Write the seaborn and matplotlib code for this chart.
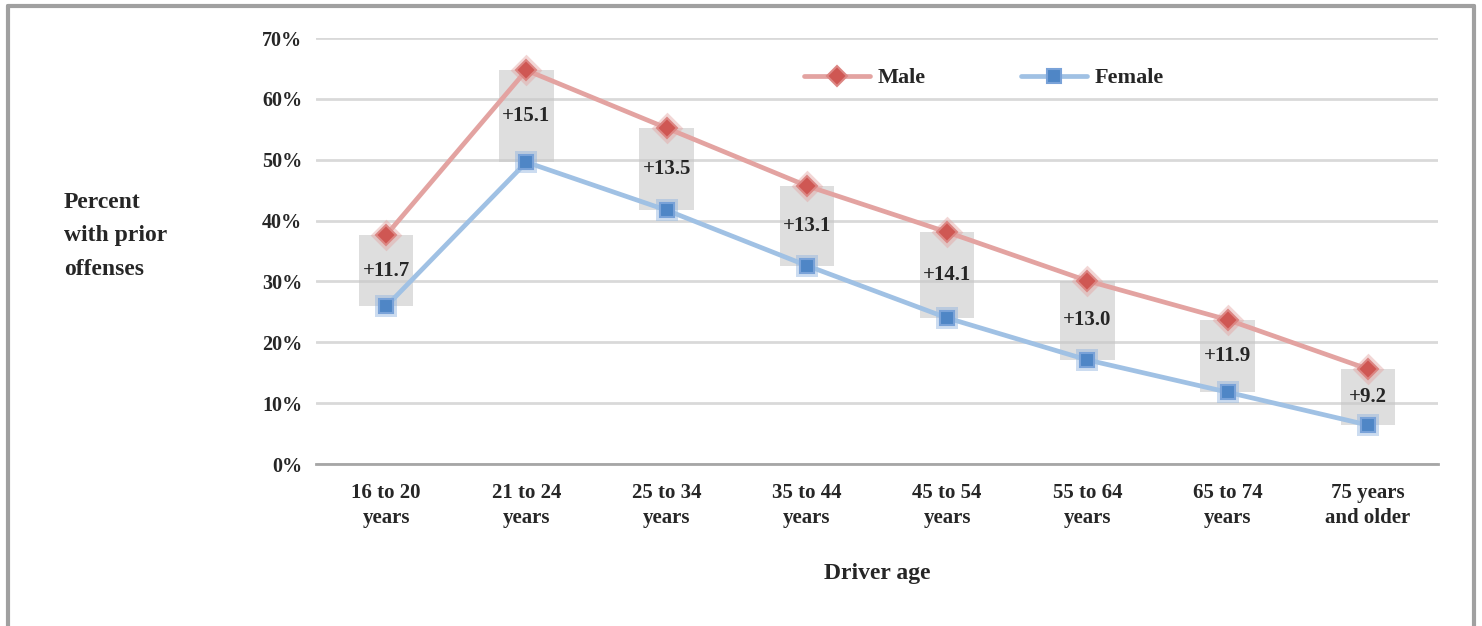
import matplotlib.pyplot as plt
import seaborn as sns
import numpy as np
from matplotlib.lines import Line2D

# Data
age_groups = ["16 to 20\nyears", "21 to 24\nyears", "25 to 34\nyears", "35 to 44\nyears",
              "45 to 54\nyears", "55 to 64\nyears", "65 to 74\nyears", "75 years\nand older"]
male_pct = [37.6, 64.7, 55.2, 45.7, 38.1, 30.1, 23.7, 15.6]
female_pct = [25.9, 49.6, 41.7, 32.6, 24.0, 17.1, 11.8, 6.4]
gap_labels = ["+11.7", "+15.1", "+13.5", "+13.1", "+14.1", "+13.0", "+11.9", "+9.2"]
y_ticks = [0, 10, 20, 30, 40, 50, 60, 70]

TEXT = "#262626"
FONT = ["Liberation Serif", "DejaVu Serif"]


def main():
    sns.set_style("white")
    plt.rcParams['font.family'] = FONT
    plt.rcParams['font.weight'] = 'bold'

    fig = plt.figure(figsize=(14.82, 6.26), dpi=100)
    ax = fig.add_axes([316 / 1482, 1 - 464 / 626, 1122 / 1482, 426 / 626])

    x = np.arange(len(age_groups))
    male = np.array(male_pct)
    female = np.array(female_pct)

    # Gap boxes between the two series
    ax.bar(x, male - female, bottom=female, width=0.39, color="#c8c8c8",
           alpha=0.6, zorder=2, linewidth=0)

    # Soft glow under markers
    sns.scatterplot(x=x, y=male, ax=ax, marker='D', s=260, color="#e4a4a2",
                    alpha=0.45, linewidth=0, zorder=3, legend=False)
    sns.scatterplot(x=x, y=female, ax=ax, marker='s', s=250, color="#8fb3df",
                    alpha=0.45, linewidth=0, zorder=3, legend=False)

    sns.lineplot(x=x, y=male, ax=ax, color="#e3a3a1", lw=3.4, marker='D',
                 markersize=10, markerfacecolor="#cf5753", markeredgecolor="#dc8683",
                 markeredgewidth=1.5, zorder=4, label="Male")
    sns.lineplot(x=x, y=female, ax=ax, color="#a0c1e4", lw=3.4, marker='s',
                 markersize=10, markerfacecolor="#4f86c6", markeredgecolor="#79a2d8",
                 markeredgewidth=1.5, zorder=4, label="Female")

    for xi, lo, hi, lab in zip(x, female, male, gap_labels):
        ax.text(xi, (lo + hi) / 2, lab, ha='center', va='center', fontsize=15,
                fontweight='bold', color=TEXT, zorder=5)

    ax.set_xlim(-0.5, len(age_groups) - 0.5)
    ax.set_ylim(0, 70)
    ax.set_yticks(y_ticks)
    ax.set_yticklabels([f"{v}%" for v in y_ticks], fontsize=14.5, color=TEXT)
    ax.set_xticks(x)
    ax.set_xticklabels(age_groups, fontsize=15, color=TEXT, linespacing=1.3)
    ax.set_xticks(np.arange(-0.5, len(age_groups)), minor=True)
    ax.tick_params(axis='x', which='major', length=0, pad=14)
    ax.tick_params(axis='x', which='minor', length=7, width=2, color="#a6a6a6",
                   direction='out')
    ax.tick_params(axis='y', length=0, pad=10)

    ax.yaxis.grid(True, color="#d9d9d9", lw=2)
    ax.set_axisbelow(True)
    for s in ['top', 'right', 'left']:
        ax.spines[s].set_visible(False)
    ax.spines['bottom'].set_color("#a6a6a6")
    ax.spines['bottom'].set_linewidth(2)
    ax.spines['bottom'].set_zorder(6)

    ax.set_xlabel("Driver age", fontsize=17, fontweight='bold', color=TEXT, labelpad=25)
    ax.set_ylabel("")

    handles = [
        Line2D([], [], color="#e3a3a1", lw=3.4, marker='D', markersize=10,
               markerfacecolor="#cf5753", markeredgecolor="#dc8683", markeredgewidth=1.5),
        Line2D([], [], color="#a0c1e4", lw=3.4, marker='s', markersize=10,
               markerfacecolor="#4f86c6", markeredgecolor="#79a2d8", markeredgewidth=1.5),
    ]
    ax.legend(handles, ["Male", "Female"], ncol=2, frameon=False, loc='center',
              bbox_to_anchor=(0.595, 0.906), fontsize=16, handlelength=3.0,
              handletextpad=0.3, columnspacing=4.3, labelcolor=TEXT)

    fig.text(64 / 1482, 1 - 236 / 626, "Percent\nwith prior\noffenses", ha='left',
             va='center', fontsize=17, fontweight='bold', color=TEXT, linespacing=1.8)

    # Outer frame (bottom edge runs off the image)
    frame_kw = dict(color="#a0a0a0", lw=3, transform=fig.transFigure, clip_on=False)
    fig.add_artist(Line2D([8 / 1482, 8 / 1482], [0, 1 - 6 / 626], **frame_kw))
    fig.add_artist(Line2D([8 / 1482, 1474 / 1482], [1 - 6 / 626, 1 - 6 / 626], **frame_kw))
    fig.add_artist(Line2D([1474 / 1482, 1474 / 1482], [0, 1 - 6 / 626], **frame_kw))

    fig.savefig("out.png", dpi=100)
    plt.close(fig)


if __name__ == "__main__":
    main()
